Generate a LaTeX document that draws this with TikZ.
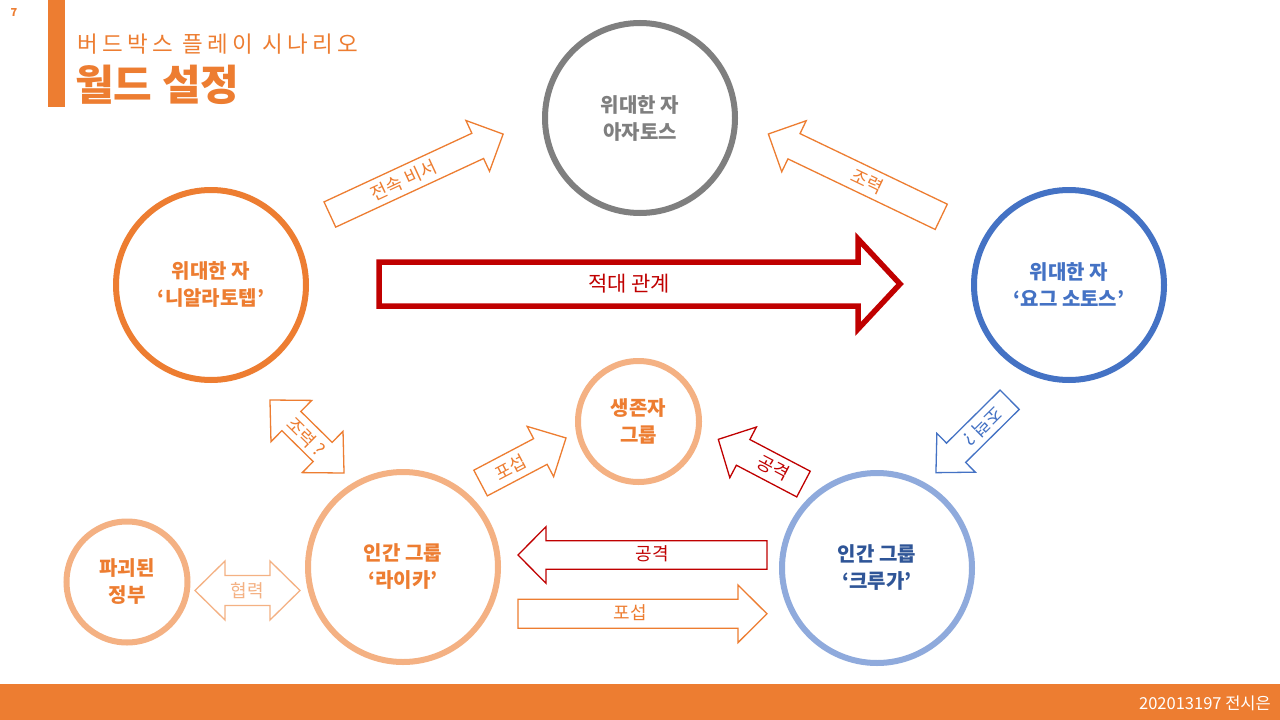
\documentclass[tikz,border=0pt]{standalone}
\usepackage{fontspec}
\setmainfont{Noto Sans CJK KR}
\newfontfamily\titlefont[LetterSpace=19]{Noto Sans CJK KR}
\definecolor{corange}{HTML}{ED7D31}
\definecolor{clight}{HTML}{F4B183}
\definecolor{cgray}{HTML}{7F7F7F}
\definecolor{cblue}{HTML}{4472C4}
\definecolor{clblue}{HTML}{8FAADC}
\definecolor{cdblue}{HTML}{2F5597}
\definecolor{cred}{HTML}{C00000}
% #1 style, #2 x, #3 y, #4 angle, #5 length, #6 shaft half, #7 head half, #8 head length
\newcommand\blkarrow[8]{%
  \begin{scope}[shift={(#2,#3)},rotate=#4]
    \draw[#1] ({-#5/2},{-#6}) -- ({#5/2-#8},{-#6}) -- ({#5/2-#8},{-#7}) -- ({#5/2},0)
      -- ({#5/2-#8},{#7}) -- ({#5/2-#8},{#6}) -- ({-#5/2},{#6}) -- cycle;
  \end{scope}}
\newcommand\dblarrow[8]{%
  \begin{scope}[shift={(#2,#3)},rotate=#4]
    \draw[#1] ({-#5/2},0) -- ({-#5/2+#8},{#7}) -- ({-#5/2+#8},{#6}) -- ({#5/2-#8},{#6})
      -- ({#5/2-#8},{#7}) -- ({#5/2},0) -- ({#5/2-#8},{-#7}) -- ({#5/2-#8},{-#6})
      -- ({-#5/2+#8},{-#6}) -- ({-#5/2+#8},{-#7}) -- cycle;
  \end{scope}}
\begin{document}
\begin{tikzpicture}[x=1pt,y=-1pt,
  bigc/.style={circle,line width=6pt,minimum size=190pt,inner sep=0pt,align=center,
    font={\fontsize{20}{27}\selectfont\bfseries}},
  smallc/.style={bigc,minimum size=121pt},
  thin arrow/.style={line width=1.3pt,line join=miter,fill=white},
  lbl/.style={inner sep=0pt,font={\fontsize{18}{22}\selectfont}}]
\useasboundingbox (0,0) rectangle (1280,720);
\fill[white] (0,0) rectangle (1280,720);
% header
\node[text=corange,font={\fontsize{11}{13}\selectfont\bfseries}] (pg) at (14,13) {7};
\fill[corange] (48,0) rectangle (65,107);
\node[anchor=west,text=corange,inner sep=0pt,font={\fontsize{22.5}{26}\titlefont}] (t1) at (77,44) {버드박스 플레이 시나리오};
\node[anchor=west,text=corange,inner sep=0pt,font={\fontsize{42}{46}\selectfont\bfseries}] (t2) at (75,85) {월드 설정};
% footer
\fill[corange] (0,684) rectangle (1280,720);
\node[anchor=east,text=white,inner sep=0pt,font={\fontsize{16.5}{19}\selectfont}] (ft) at (1271,703) {202013197 전시은};
% circles
\node[bigc,draw=cgray,text=cgray] (azat) at (640,118) {위대한 자\\아자토스};
\node[bigc,draw=corange,text=corange] (nyar) at (211,285) {위대한 자\\‘니알라토텝’};
\node[bigc,draw=cblue,text=cblue] (yog) at (1069,285) {위대한 자\\‘요그 소토스’};
\node[smallc,draw=clight,text=corange] (surv) at (638.5,421.5) {생존자\\그룹};
\node[bigc,draw=clight,text=corange] (laika) at (403,567) {인간 그룹\\‘라이카’};
\node[bigc,draw=clblue,text=cdblue] (kru) at (877,568) {인간 그룹\\‘크루가’};
\node[smallc,draw=clight,text=corange] (gov) at (127,582) {파괴된\\정부};
% big red arrow
\blkarrow{line width=5.5pt,draw=cred,line join=miter}{639.5}{284}{0}{521}{22}{45}{42}
\node[lbl,text=cred,font={\fontsize{21}{24}\selectfont}] (enemy) at (629,284) {적대 관계};
% thin arrows
\blkarrow{thin arrow,draw=corange}{416.5}{174.3}{24.9}{191}{13.9}{28}{28}
\node[lbl,text=corange,rotate=24.9] (lsec) at (403.8,180.5) {전속 비서};
\blkarrow{thin arrow,draw=corange}{854.8}{175.4}{154.4}{191.7}{14}{28.3}{28.4}
\node[lbl,text=corange,rotate=-25.6] (lhelp) at (867.5,181.7) {조력};
\dblarrow{thin arrow,draw=corange}{307}{436.5}{-44.6}{104}{13.5}{29}{30}
\node[lbl,text=corange,rotate=-44.6] (lhelp2) at (306,437) {조력 ?};
\blkarrow{thin arrow,draw=corange}{523.3}{460.5}{27.8}{96.6}{14.5}{28.4}{29}
\node[lbl,text=corange,rotate=27.8] (lrec) at (510.5,467.5) {포섭};
\blkarrow{thin arrow,draw=cred}{760.9}{461.7}{152.3}{96.2}{14.5}{28.6}{28}
\node[lbl,text=cred,rotate=-27.7] (latk) at (773.4,468) {공격};
\blkarrow{thin arrow,draw=cblue}{972.8}{436.2}{224.7}{103.7}{13.6}{27.3}{28.3}
\node[lbl,text=cblue,rotate=224.7] (lhelp3) at (982.8,426.2) {조력 ?};
\dblarrow{thin arrow,draw=clight}{247.5}{590.5}{0}{105}{15}{29.5}{30}
\node[lbl,text=clight] (lcoop) at (247.5,590.5) {협력};
\blkarrow{thin arrow,draw=cred}{642.5}{555}{180}{249}{14.3}{28.3}{28}
\node[lbl,text=cred] (latk2) at (652,554) {공격};
\blkarrow{thin arrow,draw=corange}{642.5}{613.8}{0}{249}{14.5}{28.8}{29}
\node[lbl,text=corange] (lrec2) at (630,613) {포섭};
\end{tikzpicture}
\end{document}
